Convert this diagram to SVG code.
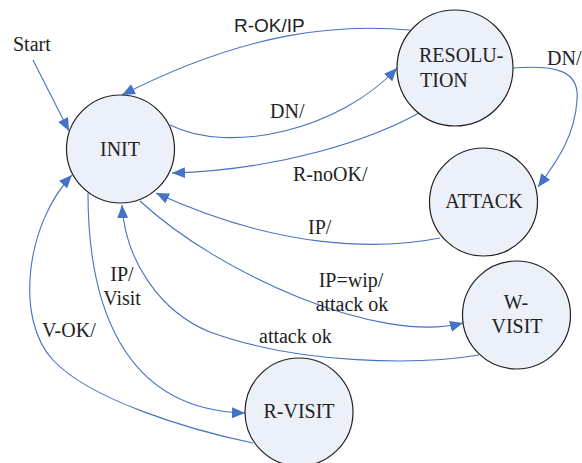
<svg xmlns="http://www.w3.org/2000/svg" width="582" height="463" viewBox="0 0 582 463">
<style>
.node{fill:#ECF0F9;stroke:#222;stroke-width:1.2}
.t{font-family:'Liberation Serif','DejaVu Serif','Times New Roman',Times,serif;font-size:20px;fill:#222}
.m{text-anchor:middle}
.s{font-family:'Liberation Sans',Arial,sans-serif;font-size:19px;fill:#222}
.c{fill:none;stroke:#4472C4;stroke-width:1.1;marker-end:url(#ah)}
</style>
<defs>
<marker id="ah" markerUnits="userSpaceOnUse" markerWidth="14" markerHeight="12" refX="13" refY="5.5" orient="auto">
<path d="M0,0 L13,5.5 L0,11 z" fill="#4472C4"/>
</marker>
</defs>
<rect width="582" height="463" fill="#fff"/>
<g id="connectors">
<path class="c" d="M33,60 L69,131"/>
<path class="c" d="M410,30 C340,24 250,30 122,95"/>
<path class="c" d="M170,125 C230,155 340,130 397,68"/>
<path class="c" d="M419,113 C370,140 280,170 172,173"/>
<path class="c" d="M513,68 C555,65 580,70 577,100 C575,135 558,160 538,187"/>
<path class="c" d="M440,238 C380,250 280,250 156,193"/>
<path class="c" d="M140,201 C220,275 380,345 463,323"/>
<path class="c" d="M479,355 C420,365 300,365 210,332 C160,312 125,260 122,205"/>
<path class="c" d="M88,193 C88,300 120,410 245,413"/>
<path class="c" d="M253,443 C190,430 90,400 53,360 C15,320 25,225 72,175"/>
</g>
<g id="labels" font-family="Liberation Serif, serif">
<text class="t" x="13" y="51">Start</text>
<text class="s" x="234" y="32">R-OK/IP</text>
<text class="t" x="270" y="118">DN/</text>
<text class="t" x="293" y="181">R-noOK/</text>
<text class="t" x="547" y="65">DN/</text>
<text class="t" x="308" y="234">IP/</text>
<text class="t m" x="351" y="287">IP=wip/</text>
<text class="t m" x="352" y="311">attack ok</text>
<text class="t" x="259" y="343">attack ok</text>
<text class="t m" x="122" y="281">IP/</text>
<text class="t m" x="122" y="305">Visit</text>
<text class="t" x="42" y="337">V-OK/</text>
</g>
<g id="INIT">
<circle class="node" cx="120.5" cy="149" r="54"/>
<text class="t m" x="120" y="156">INIT</text>
</g>
<g id="RESOLUTION">
<circle class="node" cx="455" cy="68" r="58"/>
<text class="t" x="419" y="62">RESOLU-</text>
<text class="t" x="420" y="87">TION</text>
</g>
<g id="ATTACK">
<circle class="node" cx="483.5" cy="202" r="54"/>
<text class="t m" x="484" y="208">ATTACK</text>
</g>
<g id="W-VISIT">
<circle class="node" cx="516.5" cy="315" r="54"/>
<text class="t m" x="516" y="309">W-</text>
<text class="t m" x="517" y="333">VISIT</text>
</g>
<g id="R-VISIT">
<circle class="node" cx="299" cy="412" r="54"/>
<text class="t m" x="299" y="418">R-VISIT</text>
</g>
</svg>
